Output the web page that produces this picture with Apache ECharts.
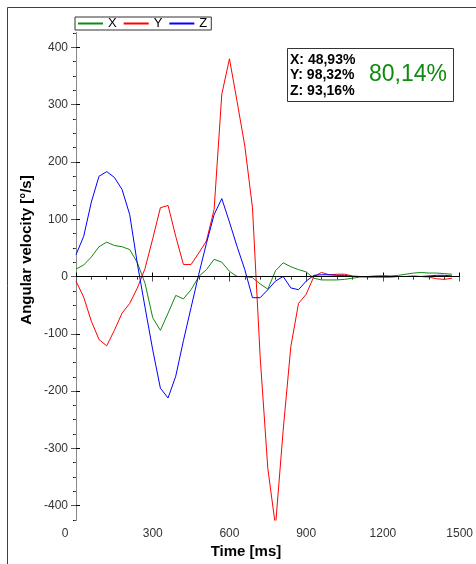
<!DOCTYPE html>
<html>
<head>
<meta charset="utf-8">
<script src="https://cdn.jsdelivr.net/npm/echarts@6/dist/echarts.min.js"></script>
<style>
  html, body { margin: 0; padding: 0; background: #fff; }
  #chart { width: 476px; height: 564px; }
</style>
</head>
<body>
<div id="chart"></div>
<script>
// sample times (ms) and angular velocity per axis (°/s)
const timeMs = [0, 30, 60, 90, 120, 150, 180, 210, 240, 270, 300, 330, 360, 390, 420, 450, 480, 510, 540, 570,
  600, 630, 660, 690, 720, 750, 780, 810, 840, 870, 900, 930, 960, 990, 1020, 1050, 1080, 1110, 1140, 1170,
  1200, 1230, 1260, 1290, 1320, 1350, 1380, 1410, 1440, 1470];
const angX = [13, 20, 34, 52, 60, 54, 52, 47, 24, -12, -72, -94, -64, -33, -39, -23, 0, 12, 30, 25,
  9, 0, 0, -2, -13, -22, 10, 24, 17, 12, 8, -3, -6, -6, -6, -5, -3, -1, 0, 1,
  1, 1, 2, 4, 6, 7, 6, 6, 5, 4];
const angY = [-8, -36, -78, -110, -121, -94, -64, -47, -20, 14, 66, 120, 124, 70, 21, 21, 41, 62, 117, 318,
  380, 305, 228, 120, -140, -335, -436, -268, -122, -47, -31, 0, 7, 3, 4, 4, 1, 0, 0, 0,
  1, 0, 0, 0, 1, 0, -1, -4, -5, -3];
const angZ = [38, 70, 130, 175, 183, 173, 152, 108, 22, -54, -128, -195, -212, -174, -112, -54, 4, 58, 108, 136,
  95, 52, 12, -37, -37, -23, -8, 0, -20, -23, -8, 2, 3, 3, 2, 2, 0, 0, -1, -1,
  -1, -1, 0, 0, 0, 0, 1, 2, 2, 1];

const seriesNames = ['X', 'Y', 'Z'];
const seriesColors = ['#108a10', '#ff0000', '#0000ff'];
const xMajorTicks = [0, 300, 600, 900, 1200, 1500];
const yMajorTicks = [-400, -300, -200, -100, 0, 100, 200, 300, 400];
const scoreLines = ['X: 48,93%', 'Y: 98,32%', 'Z: 93,16%'];
const scoreTotal = '80,14%';

const FONT = '"Liberation Sans", Arial, sans-serif';

const chart = echarts.init(document.getElementById('chart'));

// frame axes: bottom/left carry labels, top/right are mirrored tick rulers
const xBase = { type: 'value', min: 0, max: 1500, interval: 60, splitLine: { show: false } };
const yBase = { type: 'value', min: -425, max: 425, interval: 25, splitLine: { show: false } };

const xAxes = [
  {
    ...xBase, position: 'bottom',
    axisLine: { lineStyle: { color: '#000', width: 1 } },
    axisTick: { length: 3, lineStyle: { color: '#000' } },
    axisLabel: {
      customValues: xMajorTicks, margin: 8, color: '#333', fontFamily: FONT, fontSize: 12,
      formatter: v => (v === 0 ? '{z|0}' : String(v)),
      rich: { z: { padding: [0, 22, 0, 0], color: '#333', fontFamily: FONT, fontSize: 12 } }
    }
  },
  {
    ...xBase, position: 'bottom', axisLine: { show: false },
    axisTick: { inside: true, length: 4, customValues: xMajorTicks, lineStyle: { color: '#000' } },
    axisLabel: { show: false }
  },
  {
    ...xBase, position: 'top',
    axisLine: { lineStyle: { color: '#888' } },
    axisTick: { inside: true, length: 2, lineStyle: { color: '#555' } },
    axisLabel: { show: false }
  },
  {
    ...xBase, position: 'top', axisLine: { show: false },
    axisTick: { inside: true, length: 5, customValues: xMajorTicks, lineStyle: { color: '#555' } },
    axisLabel: { show: false }
  }
];

const yAxes = [
  {
    ...yBase, position: 'left',
    axisLine: { lineStyle: { color: '#000', width: 1 } },
    axisTick: { length: 3, lineStyle: { color: '#000' } },
    axisLabel: { customValues: yMajorTicks, margin: 8, color: '#333', fontFamily: FONT, fontSize: 12 }
  },
  {
    ...yBase, position: 'left', axisLine: { show: false },
    axisTick: { inside: true, length: 4, customValues: yMajorTicks, lineStyle: { color: '#000' } },
    axisLabel: { show: false }
  },
  {
    ...yBase, position: 'right',
    axisLine: { lineStyle: { color: '#888' } },
    axisTick: { inside: true, length: 2, lineStyle: { color: '#555' } },
    axisLabel: { show: false }
  },
  {
    ...yBase, position: 'right', axisLine: { show: false },
    axisTick: { inside: true, length: 5, customValues: yMajorTicks, lineStyle: { color: '#555' } },
    axisLabel: { show: false }
  }
];

const allSeries = [angX, angY, angZ].map((vals, i) => ({
  name: seriesNames[i],
  type: 'line',
  xAxisIndex: 0,
  yAxisIndex: 0,
  data: timeMs.map((t, k) => [t, vals[k]]),
  symbol: 'none',
  clip: true,
  lineStyle: { color: seriesColors[i], width: 1 },
  itemStyle: { color: seriesColors[i] }
}));

// zero reference line
allSeries[0].markLine = {
  silent: true, symbol: 'none', label: { show: false }, animation: false,
  lineStyle: { color: '#000', type: 'solid', width: 1 },
  data: [{ yAxis: 0 }]
};

chart.setOption({
  animation: false,
  backgroundColor: '#fff',
  grid: { left: 76, top: 33, right: 13, bottom: 44 },
  legend: {
    data: seriesNames,
    left: 75, top: 17,
    padding: [0, 4, 0, 3],
    icon: 'rect',
    itemGap: 7, itemWidth: 25, itemHeight: 2,
    borderColor: '#333', borderWidth: 1,
    textStyle: { color: '#000', fontFamily: FONT, fontSize: 13, lineHeight: 12 }
  },
  xAxis: xAxes,
  yAxis: yAxes,
  series: allSeries,
  graphic: [
    {
      type: 'polyline', silent: true,
      shape: { points: [[7.5, 564], [7.5, 7.5], [476, 7.5]] },
      style: { stroke: '#404040', lineWidth: 1, fill: null }
    },
    {
      type: 'rect', silent: true, z: 10,
      shape: { x: 287.5, y: 48.5, width: 166, height: 53 },
      style: { stroke: '#333', lineWidth: 1, fill: '#fff' }
    },
    {
      type: 'text', silent: true, z: 11, x: 290, y: 52,
      style: {
        text: scoreLines.join('\n'), fill: '#000',
        font: 'bold 14px ' + FONT, lineHeight: 15.5
      }
    },
    {
      type: 'text', silent: true, z: 11, x: 408, y: 75,
      style: {
        text: scoreTotal, fill: '#108a10', align: 'center', verticalAlign: 'middle',
        font: '23px ' + FONT
      }
    },
    {
      type: 'text', silent: true, x: 246, y: 552,
      style: { text: 'Time [ms]', fill: '#000', align: 'center', verticalAlign: 'middle', font: 'bold 15px ' + FONT }
    },
    {
      type: 'text', silent: true, x: 27, y: 250, rotation: Math.PI / 2,
      style: { text: 'Angular velocity [°/s]', fill: '#000', align: 'center', verticalAlign: 'middle', font: 'bold 15px ' + FONT }
    }
  ]
});
</script>
</body>
</html>
